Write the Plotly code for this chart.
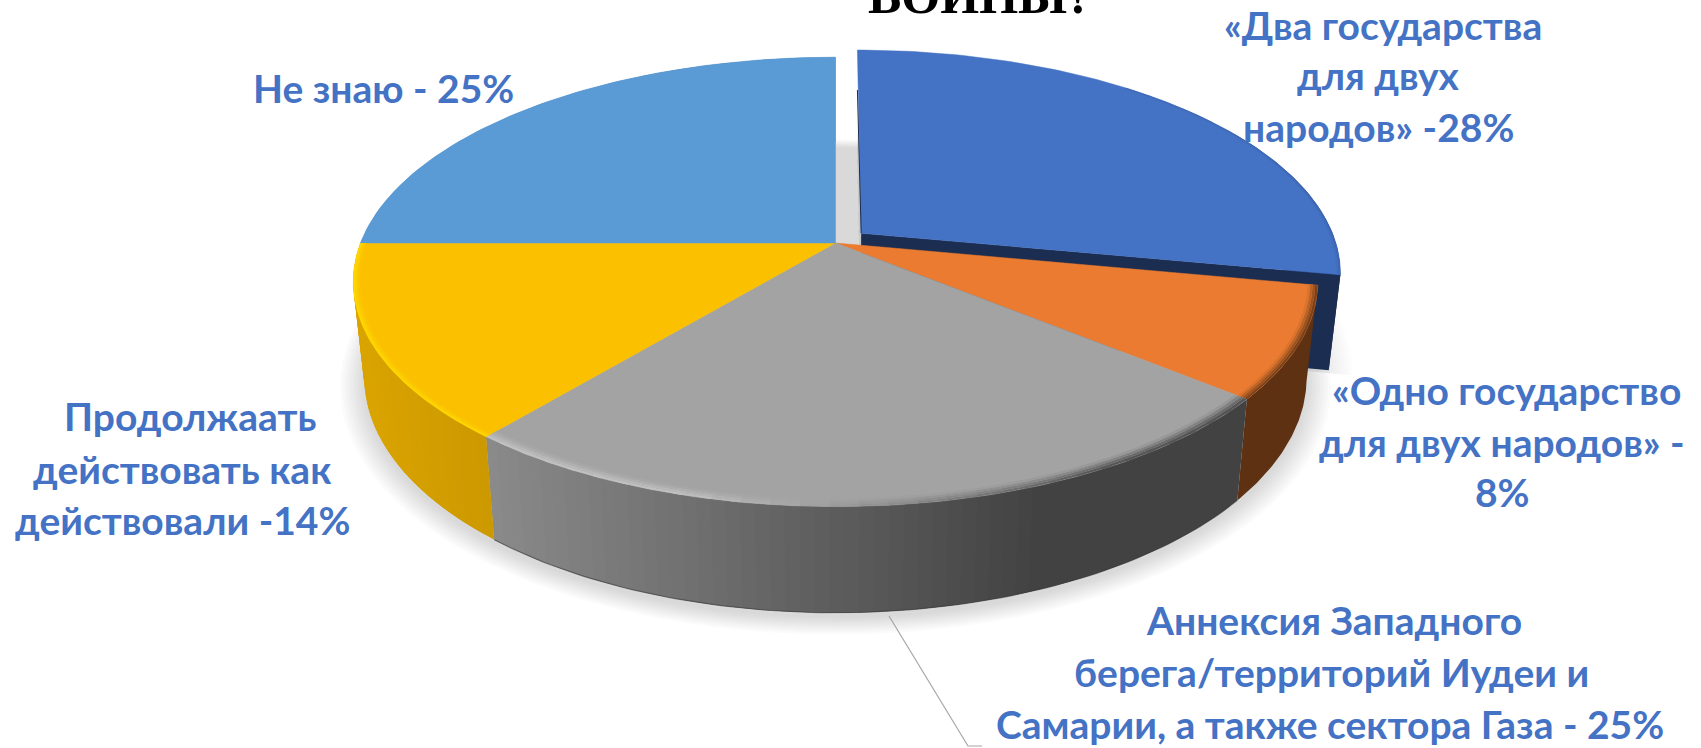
import numpy as np
import plotly.graph_objects as go

# ---- data ----
categories = ["«Два государства для двух народов»",
              "«Одно государство для двух народов»",
              "Аннексия Западного берега/территорий Иудеи и Самарии, а также сектора Газа",
              "Продолжать действовать как действовали",
              "Не знаю"]
shares = [28, 8, 25, 14, 25]
top_colors = ["#4472C4", "#EA7B30", "#A3A3A3", "#FBC000", "#5B9BD5"]

label_lines = [
    ("Не знаю - 25%", 383, 88),
    ("«Два государства", 1383, 25),
    ("для двух", 1378, 75),
    ("народов» -28%", 1378, 127),
    ("«Одно государство", 1506, 390),
    ("для двух народов» -", 1502, 442),
    ("8%", 1502, 492),
    ("Продолжаать", 190, 416),
    ("действовать как", 182, 469),
    ("действовали -14%", 182, 520),
    ("Аннексия Западного", 1334, 620),
    ("берега/территорий Иудеи и", 1331, 672),
    ("Самарии, а также сектора Газа - 25%", 1330, 724),
]
title_text = "ВОЙНЫ?"

# ---- perspective of the 3D pie (pixel coordinates of the page) ----
CX, K = 835.5, 0.173
TOP = dict(cy=243, a=475, b=218)
BOT = dict(cy=337, a=464, b=228)
EXPLODE = 0.0707


def project(theta, r, plane, off=(0.0, 0.0)):
    """theta clockwise from 12 o'clock, degrees"""
    t = np.radians(theta)
    c = r * np.sin(t) + off[0]
    s = -r * np.cos(t) + off[1]
    d = 1 - K * s
    return CX + plane["a"] * c / d, plane["cy"] + plane["b"] * s / d


def arc(t0, t1, r, plane, off=(0.0, 0.0), step=1.0):
    n = max(2, int(abs(t1 - t0) / step) + 1)
    return project(np.linspace(t0, t1, n), r, plane, off)


def lerp(c1, c2, f):
    f = float(np.clip(f, 0, 1))
    a = [int(c1[i:i + 2], 16) for i in (1, 3, 5)]
    b = [int(c2[i:i + 2], 16) for i in (1, 3, 5)]
    return "#%02X%02X%02X" % tuple(round(x + (y - x) * f) for x, y in zip(a, b))


fig = go.Figure()


def poly(x, y, color, opacity=1.0, seam=0.0):
    fig.add_trace(go.Scatter(
        x=list(x), y=list(y), mode="lines", fill="toself", fillcolor=color,
        line=dict(color=color, width=seam), opacity=opacity,
        hoverinfo="skip", showlegend=False))


def line(x, y, color, width, opacity=1.0):
    fig.add_trace(go.Scatter(
        x=list(x), y=list(y), mode="lines", line=dict(color=color, width=width),
        opacity=opacity, hoverinfo="skip", showlegend=False))


def strip(t0, t1, r0, r1, pl0, pl1, color, off=(0.0, 0.0)):
    x0, y0 = arc(t0, t1, r0, pl0, off, 0.5)
    x1, y1 = arc(t0, t1, r1, pl1, off, 0.5)
    poly(np.r_[x0, x1[::-1]], np.r_[y0, y1[::-1]], color)


cum = np.cumsum([0] + shares) * 3.6
spans = list(zip(cum[:-1], cum[1:]))
eoff = (EXPLODE * np.sin(np.radians(np.mean(spans[0]))),
        -EXPLODE * np.cos(np.radians(np.mean(spans[0]))))

# soft shadow under the pie and the pulled-out slice
for grow in np.linspace(0.05, 0.0, 10):
    px, py = arc(0, 360, 1 + grow, BOT)
    poly(px, py + 5, "#808080", 0.03)
    qx, qy = arc(0, spans[0][1], 1 + grow, BOT, eoff)
    ax, ay = project(0, 0, BOT, eoff)
    poly(np.r_[ax, qx, ax], np.r_[ay, qy + 3, ay], "#808080", 0.018)

# pulled-out slice: cut face and wall
NAVY = "#1B2D50"
t0, t1 = spans[0]
tx, ty = project(0, 0, TOP, eoff)
bx, by = project(0, 0, BOT, eoff)
cx1, cy1 = project(t1, 1, TOP, eoff)
cx2, cy2 = project(t1, 1, BOT, eoff)
poly([tx, cx1, cx2, bx, tx], [ty, cy1, cy2, by, ty], NAVY)
strip(60, t1, 1, 1, TOP, BOT, NAVY, eoff)


# walls of the other slices: each band overlaps the next one, so no seams appear
def wall(t0, t1, colfun, step=1.5):
    for a in np.arange(t0, t1, step):
        col = colfun(project(a + step / 2, 1, TOP)[0])
        strip(a, min(a + step + 1.5, t1), 1, 1, TOP, BOT, col)


wall(*spans[1], lambda x: "#5E3113", step=spans[1][1] - spans[1][0])
wall(*spans[2], lambda x: lerp("#8A8A8A", "#424242", (x - 488) / (1040 - 488)))
wall(*spans[3], lambda x: lerp("#D9A300", "#CC9800", (x - 365) / 125))
wall(*spans[4], lambda x: "#4A7CAB", step=spans[4][1] - spans[4][0])

# dark lower rim of the grey wall
gx, gy = arc(spans[2][0], spans[2][1], 1, BOT)
line(gx, gy, "#3C3C3C", 1.2, 0.6)

# top faces
for i, (a, b) in enumerate(spans):
    off = eoff if i == 0 else (0.0, 0.0)
    ox, oy = project(0, 0, TOP, off)
    x, y = arc(a, b, 1, TOP, off)
    poly(np.r_[ox, x, ox], np.r_[oy, y, oy], top_colors[i], seam=0.5)


# bevel along the outer rim of the top faces
def rim(t0, t1, colfun, base, off=(0.0, 0.0), bands=4, width=0.022, step=3.0):
    for a in np.arange(t0, t1, step):
        b = min(a + step + 1.0, t1)
        col = colfun(a + step / 2)
        for j in range(bands):
            r1 = 1 - width * j / bands
            r0 = 1 - width * (j + 1) / bands
            strip(a, b, r0, r1, TOP, TOP, lerp(col, base, (j + 0.5) / bands), off)


# orange: dark soft edge
rim(*spans[1], lambda t: "#6A3A18", top_colors[1], bands=4, width=0.02, step=spans[1][1] - spans[1][0])
# grey: dark at the right, pale highlight at the left
rim(*spans[2], lambda t: lerp("#4A4A4A", "#C4C4C4", (t - 150.0) / 45.0), top_colors[2], width=0.026)
# yellow: bright gold edge
rim(*spans[3], lambda t: "#FFDC00", top_colors[3], width=0.014, step=spans[3][1] - spans[3][0])
# blue: slight dark edge
rim(40, spans[0][1], lambda t: "#3A62AB", top_colors[0], off=eoff, bands=2, width=0.008, step=spans[0][1] - 40)

# thin dark line on the left edge of the pulled-out slice
ex, ey = project(0, 1, TOP, eoff)
line([ex, tx], [ey + 40, ty], NAVY, 1.0)

# leader line of the grey slice
line([889, 968, 982], [616, 746, 746], "#A6A6A6", 1.2)

# labels
for txt, x, y in label_lines:
    fig.add_annotation(x=x, y=y, text=txt, showarrow=False, xanchor="center", yanchor="middle",
                       font=dict(family="Lato, Roboto", size=39, color="#4472C4", weight="bold"))
fig.add_annotation(x=980, xref="x", y=1 - 26 / 748, yref="paper", text=title_text, showarrow=False,
                   xanchor="center", yanchor="bottom",
                   font=dict(family="Liberation Serif", size=50, color="#000000", weight="bold"))

fig.update_layout(
    width=1701, height=748, autosize=False,
    margin=dict(l=0, r=0, t=0, b=0), paper_bgcolor="white", plot_bgcolor="white",
    xaxis=dict(range=[0, 1701], visible=False, fixedrange=True),
    yaxis=dict(range=[748, 0], visible=False, fixedrange=True),
    showlegend=False,
)
fig.write_html("out.html", config={"displayModeBar": False},
               post_script="document.body.style.margin='0';document.body.style.overflow='hidden';")
